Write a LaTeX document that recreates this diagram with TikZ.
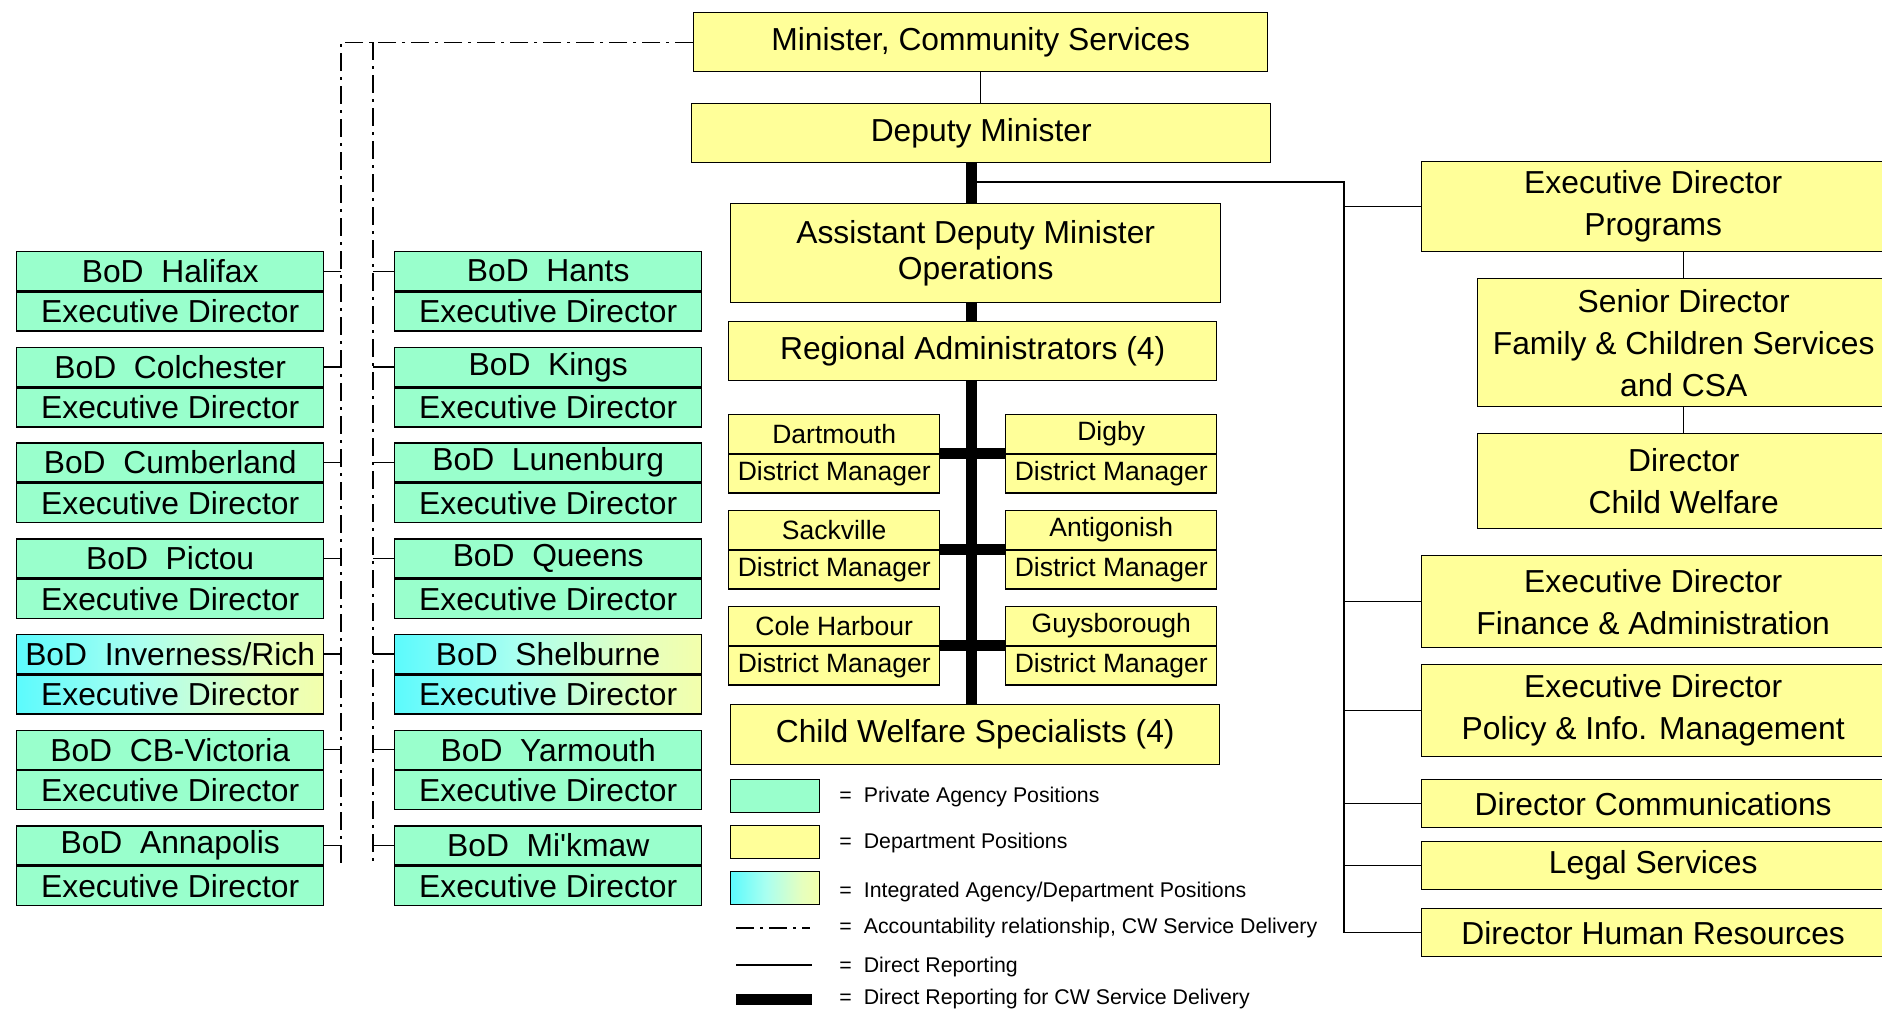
\documentclass[tikz,border=0pt]{standalone}
\usepackage{fontspec}
\setmainfont{Liberation Sans}
\usetikzlibrary{calc,positioning}
\definecolor{agency}{RGB}{153,255,204}
\definecolor{dept}{RGB}{255,255,153}
\definecolor{integ}{RGB}{80,250,255}
\definecolor{integmid}{RGB}{170,255,240}
\definecolor{integpale}{RGB}{230,255,190}
\pgfdeclarehorizontalshading{integrated}{100bp}{color(0bp)=(integ); color(22bp)=(integ); color(45bp)=(integmid); color(65bp)=(integpale); color(85bp)=(dept); color(100bp)=(dept)}
\newcommand{\boxfont}{\fontsize{15.9}{18.4}\selectfont}
\newcommand{\widefont}{\fontsize{15.9}{21}\selectfont}
\newcommand{\dmfont}{\fontsize{13.25}{15}\selectfont}
\newcommand{\keyfont}{\fontsize{10.65}{12}\selectfont}
\newcommand{\boards}[4]{
  \foreach[count=\i] \site/\kind in {#1} {
    \node[post, \kind, dims={307}{39}] (bod#2\i) at (#3,{251+(\i-1)*95.7}) {BoD\ \ \site};
    \node[post, \kind, dims={307}{39}] (ed#2\i) at (bod#2\i.south west) {Executive Director};
    \draw[direct] (bod#2\i.#4) -- (bod#2\i.#4 -| acc#2);
  }
}
\newcommand{\district}[4]{
  \node[post, deptbox, dims={211}{38.5}, font=\dmfont] (#1) at (#3,#4) {#2};
  \node[post, deptbox, dims={211}{38.5}, font=\dmfont] (#1dm) at (#1.south west) {District Manager};
}

\begin{document}
\begin{tikzpicture}[x=0.5pt, y=-0.5pt,
    post/.style={draw, line width=0.7pt, inner sep=0pt, anchor=north west, align=center, font=\boxfont},
    dims/.style 2 args={minimum width=#1*0.5pt, minimum height=#2*0.5pt},
    agencybox/.style={fill=agency},
    deptbox/.style={fill=dept},
    integbox/.style={shade, shading=integrated},
    direct/.style={line width=0.7pt},
    cwline/.style={line width=5.5pt},
    account/.style={line width=0.6pt, dash pattern=on 9pt off 3pt on 1.5pt off 3pt},
    keytext/.style={anchor=west, inner sep=0pt, font=\keyfont}]
  \useasboundingbox (0,0) rectangle (1882,1011);

  \node[post, deptbox, dims={574}{59}] (min) at (693,12) {Minister, Community Services};
  \node[post, deptbox, dims={579}{59}] (dm) at (691,103) {Deputy Minister};
  \node[post, deptbox, dims={490}{99}] (adm) at (730,203) {Assistant Deputy Minister\\Operations};
  \node[post, deptbox, dims={488}{59}] (ra) at (728,321) {Regional Administrators (4)};
  \district{dart}{Dartmouth}{728}{414}
  \district{digby}{Digby}{1005}{414}
  \district{sack}{Sackville}{728}{510}
  \district{anti}{Antigonish}{1005}{510}
  \district{cole}{Cole Harbour}{728}{606}
  \district{guys}{Guysborough}{1005}{606}
  \node[post, deptbox, dims={489}{60}] (cws) at (730,704) {Child Welfare Specialists (4)};

  \node[post, deptbox, dims={463}{90}, font=\widefont] (edp) at (1421,161) {Executive Director\\Programs};
  \node[post, deptbox, dims={412}{128}, font=\widefont] (sen) at (1477,278) {Senior Director\\Family \& Children Services\\and CSA};
  \node[post, deptbox, dims={412}{95}, font=\widefont] (dcw) at (1477,433) {Director\\Child Welfare};
  \node[post, deptbox, dims={463}{92}, font=\widefont] (edf) at (1421,555) {Executive Director\\Finance \& Administration};
  \node[post, deptbox, dims={463}{92}, font=\widefont] (edpol) at (1421,664) {Executive Director\\Policy \& Info. Management};
  \node[post, deptbox, dims={463}{48}] (dcom) at (1421,779) {Director Communications};
  \node[post, deptbox, dims={463}{48}] (legal) at (1421,841) {Legal Services};
  \node[post, deptbox, dims={463}{48}] (hr) at (1421,908) {Director Human Resources};

  \coordinate (accL) at (341,865);
  \coordinate (accR) at (373,865);
  \draw[account] (min.west) -| (accL);
  \draw[account] (min.west -| accR) -- (accR);
  \boards{Halifax/agencybox, Colchester/agencybox, Cumberland/agencybox, Pictou/agencybox,
    {Inverness/Rich}/integbox, CB-Victoria/agencybox, Annapolis/agencybox}{L}{16}{east}
  \boards{Hants/agencybox, Kings/agencybox, Lunenburg/agencybox, Queens/agencybox,
    Shelburne/integbox, Yarmouth/agencybox, Mi\textquotesingle kmaw/agencybox}{R}{394}{west}

  \draw[direct] (min.south) -- (min.south |- dm.north);
  \coordinate (spine) at (971,182);
  \coordinate (bus) at (1344,182);
  \draw[cwline] (dm.south -| spine) -- (adm.north -| spine);
  \draw[cwline] (adm.south -| spine) -- (ra.north -| spine);
  \draw[cwline] (ra.south -| spine) -- (cws.north -| spine);
  \draw[cwline] (dart.south east) -- (digby.south west);
  \draw[cwline] (sack.south east) -- (anti.south west);
  \draw[cwline] (cole.south east) -- (guys.south west);

  \draw[direct] (spine) -- (bus) -- (bus |- hr.west);
  \foreach \n in {edp,edf,edpol,dcom,legal,hr}
    \draw[direct] (bus |- \n.west) -- (\n.west);
  \draw[direct] (sen.north) -- (sen.north |- edp.south);
  \draw[direct] (sen.south) -- (sen.south |- dcw.north);

  \node[post, agencybox, dims={89}{32.5}] (keyagency) at (730,779) {};
  \node[post, deptbox, dims={89}{32.5}] (keydept) at (730,825) {};
  \node[post, integbox, dims={89}{32.5}] (keyinteg) at (730,871) {};
  \coordinate (keyacc) at (736,928);
  \coordinate (keyaccend) at (810,928);
  \coordinate (keydir) at (736,965);
  \coordinate (keydirend) at (812,965);
  \coordinate (keycw) at (736,999);
  \coordinate (keycwend) at (812,999);
  \draw[account] (keyacc) -- (keyaccend);
  \draw[direct] (keydir) -- (keydirend);
  \draw[cwline] (keycw) -- (keycwend);
  \node[keytext] (txtagency) at (839,797) {=\hspace{6pt}Private Agency Positions};
  \node[keytext] (txtdept) at (839,843) {=\hspace{6pt}Department Positions};
  \node[keytext] (txtinteg) at (839,892) {=\hspace{6pt}Integrated Agency/Department Positions};
  \node[keytext] (txtacc) at (839,928) {=\hspace{6pt}Accountability relationship, CW Service Delivery};
  \node[keytext] (txtdir) at (839,967) {=\hspace{6pt}Direct Reporting};
  \node[keytext] (txtcw) at (839,999) {=\hspace{6pt}Direct Reporting for CW Service Delivery};
\end{tikzpicture}
\end{document}
